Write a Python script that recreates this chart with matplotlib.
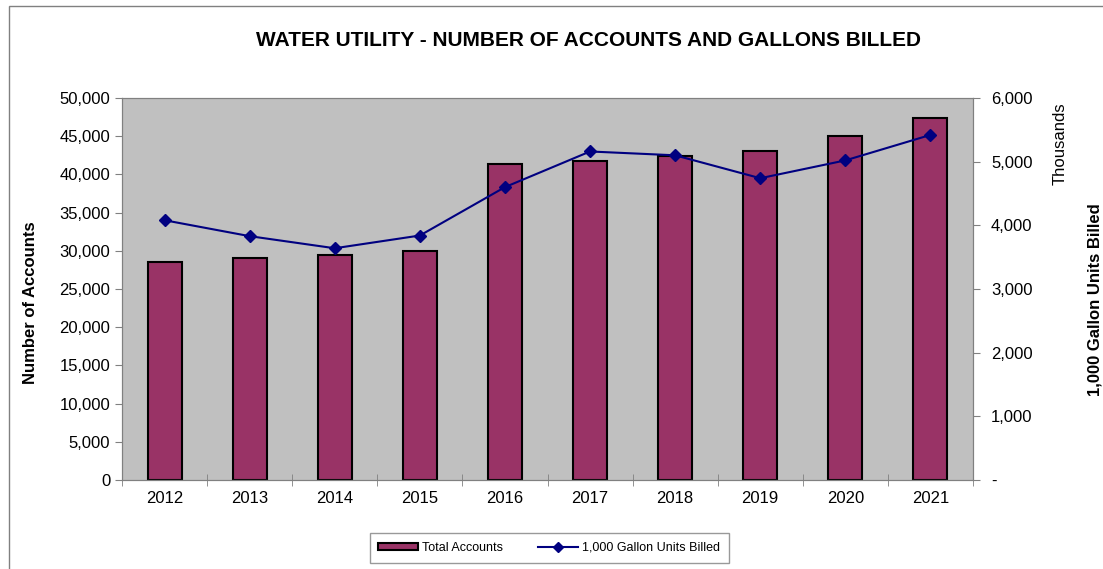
import matplotlib.pyplot as plt
import numpy as np
from matplotlib.patches import Rectangle
from matplotlib.lines import Line2D
from matplotlib.patches import Patch
from matplotlib.ticker import FuncFormatter

plt.rcParams['font.family'] = ['Liberation Sans', 'DejaVu Sans']

years = ['2012', '2013', '2014', '2015', '2016', '2017', '2018', '2019', '2020', '2021']
total_accounts = [28500, 29000, 29500, 30000, 41400, 41800, 42400, 43000, 45000, 47400]
# 1,000 gallon units billed, in thousands
units_billed = [4080, 3830, 3640, 3840, 4600, 5160, 5100, 4740, 5020, 5420]

fig = plt.figure(figsize=(11.03, 5.69), dpi=100)
ax = fig.add_axes([122 / 1103, 89 / 569, 851 / 1103, 382 / 569])
ax.set_facecolor('#C0C0C0')

x = np.arange(len(years))
ax.bar(x, total_accounts, width=0.4, color='#993366', edgecolor='black', linewidth=1.5, zorder=2)
ax.set_xlim(-0.5, len(years) - 0.5)
ax.set_ylim(0, 50000)
ax.set_yticks(np.arange(0, 50001, 5000))
ax.yaxis.set_major_formatter(FuncFormatter(lambda v, p: f'{v:,.0f}'))
ax.set_xticks(x)
ax.set_xticklabels(years)
ax.set_xticks(np.arange(-0.5, len(years), 1), minor=True)
ax.tick_params(axis='x', which='major', length=0, labelsize=12, pad=8)
ax.tick_params(axis='x', which='minor', direction='inout', length=8, color='#808080')
ax.tick_params(axis='y', direction='out', length=5, labelsize=12, color='#808080')
for s in ax.spines.values():
    s.set_color('#808080')

ax2 = ax.twinx()
ax2.plot(x, units_billed, color='#000080', marker='D', markersize=6, linewidth=1.5, zorder=3)
ax2.set_ylim(0, 6000)
ax2.set_yticks(np.arange(0, 6001, 1000))
ax2.yaxis.set_major_formatter(FuncFormatter(lambda v, p: '-' if v == 0 else f'{v:,.0f}'))
ax2.tick_params(axis='y', direction='out', length=5, labelsize=12, color='#808080', pad=8)
for s in ax2.spines.values():
    s.set_color('#808080')

fig.text(589 / 1103, 1 - 40 / 569, 'WATER UTILITY - NUMBER OF ACCOUNTS AND GALLONS BILLED',
         ha='center', va='center', fontsize=15, fontweight='bold')
fig.text(31 / 1103, 1 - 303 / 569, 'Number of Accounts', rotation=90,
         ha='center', va='center', fontsize=12, fontweight='bold')
fig.text(1060 / 1103, 1 - 144 / 569, 'Thousands', rotation=90,
         ha='center', va='center', fontsize=12)
fig.text(1095 / 1103, 1 - 300 / 569, '1,000 Gallon Units Billed', rotation=90,
         ha='center', va='center', fontsize=12, fontweight='bold')

# outer chart border (cut off at right and bottom)
fig.patches.append(Rectangle((9 / 1103, -0.1), 1.2, 1 - 6 / 569 + 0.1, transform=fig.transFigure,
                             fill=False, edgecolor='#808080', linewidth=1))

handles = [Patch(facecolor='#993366', edgecolor='black', linewidth=1.5, label='Total Accounts'),
           Line2D([0], [0], color='#000080', marker='D', markersize=5, linewidth=1.5,
                  label='1,000 Gallon Units Billed')]
leg = fig.legend(handles=handles, loc='center', bbox_to_anchor=(549 / 1103, 1 - 548 / 569),
                 ncol=2, fontsize=9, frameon=True, fancybox=False, edgecolor='#808080',
                 handlelength=3.2, handleheight=0.4, handletextpad=0.3, columnspacing=2.8,
                 borderpad=0.7, borderaxespad=0)
leg.get_frame().set_linewidth(1)

fig.savefig('out.png', dpi=100)
